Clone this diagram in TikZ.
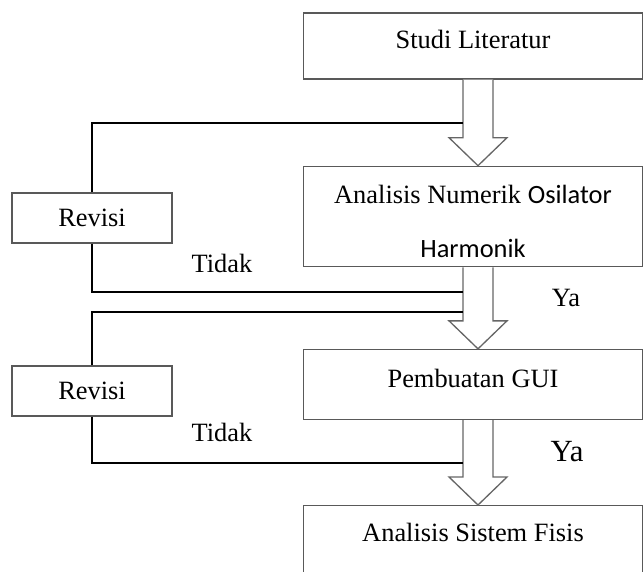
\documentclass[tikz,border=0pt]{standalone}
\usepackage{fontspec}
\setmainfont{Liberation Serif}
\newfontfamily\carlito{Carlito}
\usetikzlibrary{positioning,calc}

\newcommand{\pxu}{0.4545pt}
\newcommand{\blockarrow}[2]{%
  \draw[hollow] ($(#1.south)+(-10,0)$) -- ($(#2.north)+(-10,-28)$)
    -- ($(#2.north)+(-24,-28)$) -- ($(#2.north)+(5,0)$)
    -- ($(#2.north)+(34,-28)$) -- ($(#2.north)+(20,-28)$)
    -- ($(#1.south)+(20,0)$);}

\begin{document}
\begin{tikzpicture}[x=\pxu, y=-\pxu, line join=miter,
  txt/.style={font=\fontsize{12pt}{14.5pt}\selectfont},
  box/.style={txt, draw=black!65, line width=0.6pt, minimum width=339*\pxu,
    inner sep=4pt, align=center},
  revbox/.style={txt, draw=black!65, line width=0.6pt,
    minimum width=160*\pxu, minimum height=50*\pxu},
  hollow/.style={draw=black!60, line width=0.6pt, fill=white},
  loopline/.style={draw=black, line width=0.9pt}]
  \path[use as bounding box] (0,0) rectangle (643,571);
  \clip (0,0) rectangle (643,571);

  \node[box, minimum height=66*\pxu, text depth=6pt] (lit) at (473,46) {Studi Literatur};
  \node[box, minimum height=99*\pxu] (num) at (473,216.5)
    {\rule{0pt}{13pt}Analisis Numerik {\carlito Osilator}\\[10pt]{\carlito Harmonik}};
  \node[box, minimum height=70*\pxu, text depth=6pt] (gui) at (473,384.5) {Pembuatan GUI};
  \node[box, anchor=north, text height=12.3pt, text depth=40pt] (fis) at (473,505)
    {Analisis Sistem Fisis};

  \blockarrow{lit}{num}
  \blockarrow{num}{gui}
  \blockarrow{gui}{fis}

  % revisi loops
  \node[revbox] (rev1) at (92,218) {Revisi};
  \node[revbox] (rev2) at (92,391) {Revisi};
  \coordinate (in1) at ($(lit.south)+(-10,43)$);
  \coordinate (out1) at ($(num.south)+(-10,25)$);
  \coordinate (in2) at ($(gui.north)+(-10,-37)$);
  \coordinate (out2) at ($(gui.south)+(-10,43)$);
  \draw[loopline] (rev1.north) |- (in1);
  \draw[loopline] (rev1.south) |- (out1);
  \draw[loopline] (rev2.north) |- (in2);
  \draw[loopline] (rev2.south) |- (out2);

  \node[txt] (no1) at (222,263) {Tidak};
  \node[txt] (no2) at (222,432) {Tidak};
  \node[font=\fontsize{12pt}{14pt}\selectfont] (yes1) at (566,298) {Ya};
  \node[font=\fontsize{14pt}{16pt}\selectfont] (yes2) at (567,452) {Ya};
\end{tikzpicture}
\end{document}
